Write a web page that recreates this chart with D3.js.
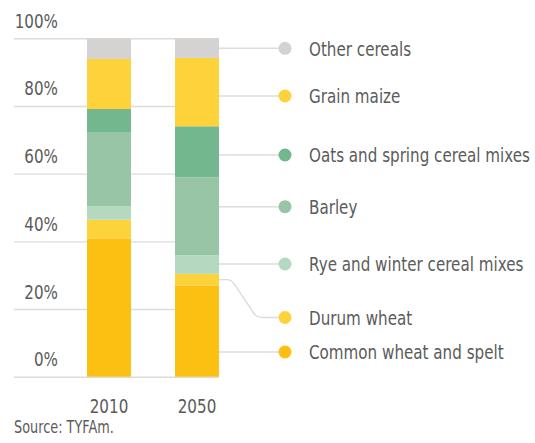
<!DOCTYPE html>
<html>
<head>
<meta charset="utf-8">
<script src="https://cdn.jsdelivr.net/npm/d3@7"></script>
<style>
  body { margin: 0; background: #fff; }
  svg text { font-family: "DejaVu Sans", sans-serif; fill: #5b5b5b; }
</style>
</head>
<body>
<svg width="535" height="443"></svg>
<script>
'use strict';

const YEARS = ["2010", "2050"];
const SERIES = ["Common wheat and spelt", "Durum wheat", "Rye and winter cereal mixes", "Barley", "Oats and spring cereal mixes", "Grain maize", "Other cereals"];
const VALUES_2010 = [40.9, 5.5, 4.0, 21.9, 6.8, 14.8, 6.1];
const VALUES_2050 = [27.0, 3.4, 5.5, 23.0, 15.1, 20.2, 5.8];
const COLORS = ["#fbc012", "#fdd33b", "#b5d9c0", "#97c5a6", "#73b78e", "#fdd23a", "#d4d3d1"];
const Y_TICKS = [0, 20, 40, 60, 80, 100];

// legend label rows (pixels), bottom series first
const LEGEND_Y = [352, 317.5, 264, 206.7, 155, 96, 48.3];
const GRID_LEFT = 14;
const DOT_X = 285;
const LABEL_X = 309;
const LINE_COLOR = "#dcdcdc";
const FONT_SIZE = 20;

const svg = d3.select("svg");

// the original uses a condensed face, squeeze the text horizontally to get close
const probe = svg.append("text").style("font-size", FONT_SIZE + "px").text("Oats and spring cereal mixes");
const K = 221 / probe.node().getComputedTextLength();
probe.remove();

function squeeze(sel) {
   sel.each(function () {
      const t = d3.select(this);
      const tx = +t.attr("x") || 0;
      const ty = +t.attr("y") || 0;
      t.attr("x", 0).attr("y", 0).attr("transform", `translate(${tx},${ty}) scale(${K},1)`);
   });
}

const x = d3.scaleBand().domain(YEARS).range([65, 241]).paddingInner(0.5).paddingOuter(0.25);
const y = d3.scaleLinear().domain([0, 100]).range([376.7, 38.3]);
const barRight = x("2050") + x.bandwidth();

const rows = YEARS.map((yr, i) => {
   const row = { year: yr };
   const vals = i === 0 ? VALUES_2010 : VALUES_2050;
   SERIES.forEach((s, j) => row[s] = vals[j]);
   return row;
});
const stacked = d3.stack().keys(SERIES)(rows);

// gridlines + y labels
const axisY = svg.append("g")
   .attr("transform", `translate(${GRID_LEFT},0)`)
   .call(d3.axisLeft(y).tickValues(Y_TICKS).tickSize(-(barRight - GRID_LEFT)).tickFormat(d => d + "%"));
axisY.select(".domain").remove();
axisY.selectAll(".tick line").attr("stroke", LINE_COLOR).attr("stroke-width", 1.4);
axisY.selectAll(".tick text")
   .attr("x", 44).attr("dy", -11).attr("text-anchor", "end")
   .style("font-size", FONT_SIZE + "px").attr("fill", null)
   .call(squeeze);

// bars
svg.append("g").selectAll("g")
   .data(stacked)
   .enter().append("g")
   .attr("fill", (d, i) => COLORS[i])
   .selectAll("rect")
   .data(d => d)
   .enter().append("rect")
   .attr("x", d => x(d.data.year))
   .attr("y", d => y(d[1]))
   .attr("width", x.bandwidth())
   .attr("height", d => y(d[0]) - y(d[1]));

// year labels
const axisX = svg.append("g")
   .attr("transform", "translate(0,412.7)")
   .call(d3.axisBottom(x).tickSize(0));
axisX.select(".domain").remove();
axisX.selectAll(".tick text").attr("y", 0).attr("dy", 0)
   .style("font-size", FONT_SIZE + "px").attr("fill", null)
   .call(squeeze);

// legend
const last = stacked.map(s => s[1]);
const legend = svg.append("g");
legend.selectAll("path")
   .data(last)
   .enter().append("path")
   .attr("fill", "none")
   .attr("stroke", LINE_COLOR)
   .attr("stroke-width", 1.4)
   .attr("d", (d, i) => {
      const ly = LEGEND_Y[i];
      const mid = y((d[0] + d[1]) / 2);
      if (ly >= y(d[1]) && ly <= y(d[0])) return `M${barRight},${ly}H${DOT_X}`;
      return `M${barRight},${mid}H${barRight + 8}Q${barRight + 12},${mid} ${barRight + 15},${mid + 4}` +
         `L${barRight + 35},${ly - 4}Q${barRight + 38},${ly} ${barRight + 43},${ly}H${DOT_X}`;
   });
legend.selectAll("circle")
   .data(SERIES)
   .enter().append("circle")
   .attr("cx", DOT_X)
   .attr("cy", (d, i) => LEGEND_Y[i])
   .attr("r", 6.5)
   .attr("fill", (d, i) => COLORS[i]);
legend.selectAll("text")
   .data(SERIES)
   .enter().append("text")
   .attr("x", LABEL_X)
   .attr("y", (d, i) => LEGEND_Y[i])
   .attr("dy", "0.36em")
   .style("font-size", FONT_SIZE + "px")
   .text(d => d)
   .call(squeeze);

svg.append("text")
   .attr("x", GRID_LEFT)
   .attr("y", 433.3)
   .style("font-size", "17px")
   .text("Source: TYFAm.")
   .call(squeeze);
</script>
</body>
</html>
